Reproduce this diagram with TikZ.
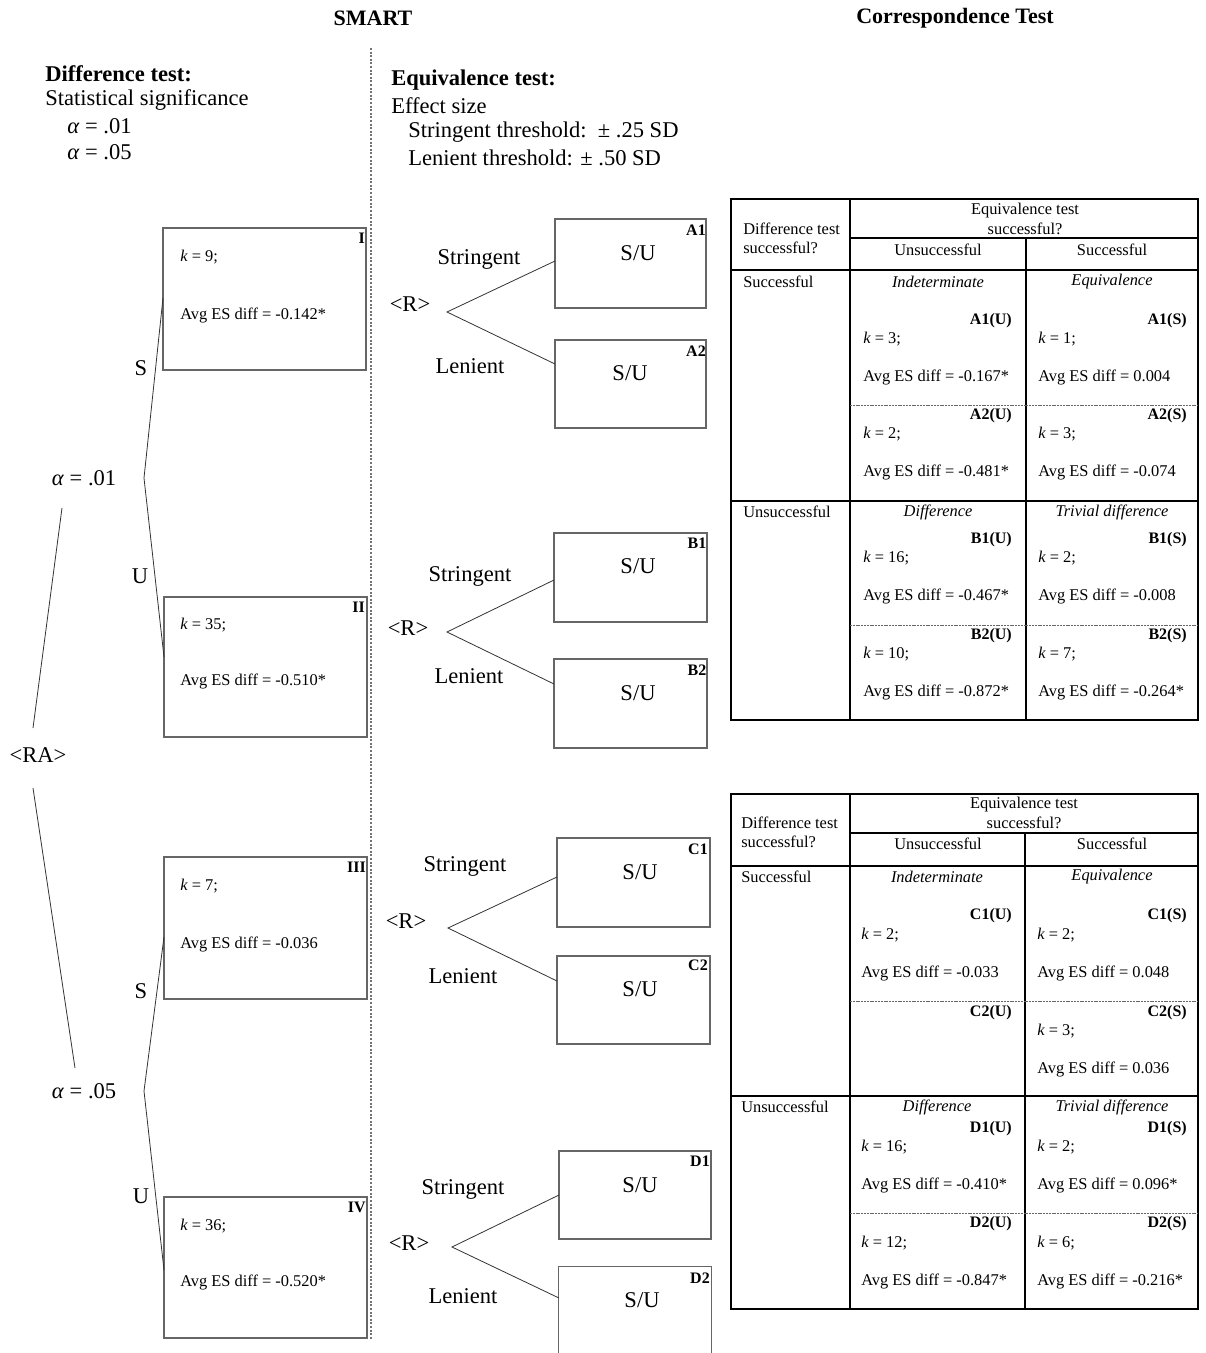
\documentclass[tikz,border=0pt]{standalone}
\usepackage{fontspec}
\setmainfont{Liberation Serif}
\usetikzlibrary{fit}
\newcommand\tlab[4]{\node[smb,anchor=east] (#1) at (#2,#3) {#4};}
\newcommand\tkv[6][38]{\node[sm,anchor=west] (#2k) at (#3,#4) {\textit{k} = #5;};
  \node[sm,anchor=west] (#2v) at (#3,#4+#1) {Avg ES diff = #6};}
\begin{document}
\begin{tikzpicture}[x=0.75pt,y=-0.75pt,
  big/.style={font=\fontsize{16.9}{20}\selectfont, inner sep=0pt},
  bigb/.style={font=\fontsize{16.9}{20}\selectfont\bfseries, inner sep=0pt},
  sm/.style={font=\fontsize{12.3}{14}\selectfont, inner sep=0pt},
  smi/.style={font=\fontsize{12.3}{14}\selectfont\itshape, inner sep=0pt},
  smb/.style={font=\fontsize{12}{14}\selectfont\bfseries, inner sep=0pt},
  hdr/.style={font=\fontsize{16.5}{20}\selectfont\bfseries, inner sep=0pt},
  sbox/.style={draw=black!60, line width=0.9pt, inner sep=0pt},
  branch/.style={draw=black!80, line width=0.6pt},
  tline/.style={draw=black, line width=1.5pt},
  dline/.style={draw=black!60, line width=0.5pt, dash pattern=on 1.5pt off 0.6pt},
  vsep/.style={draw=black!55, line width=0.9pt, dash pattern=on 1.5pt off 1.2pt}
]
\useasboundingbox (0,0) rectangle (1206,1353);

% headers
\node[hdr] (hsmart) at (373,18) {SMART};
\node[hdr] (hcorr) at (955,18) {Correspondence Test};
\draw[vsep] (371,48) -- (371,1340);

\node[bigb,anchor=west] (dt1) at (45,74) {Difference test:};
\node[big,anchor=west] (dt2) at (45,100) {Statistical significance};
\node[big,anchor=west] (dt3) at (67,126) {\textit{α} = .01};
\node[big,anchor=west] (dt4) at (67,152) {\textit{α} = .05};

\node[bigb,anchor=west] (et1) at (391,80) {Equivalence test:};
\node[big,anchor=west] (et2) at (391,106) {Effect size};
\node[big,anchor=west] (et3) at (408,132) {Stringent threshold:\ \ ± .25 SD};
\node[big,anchor=west] (et4) at (408,158) {Lenient threshold: ± .50 SD};

% left tree
\node[big] (ra) at (38,755) {<RA>};
\node[big] (a01) at (84,478) {\textit{α} = .01};
\node[big] (a05) at (84,1091) {\textit{α} = .05};
\coordinate (t1) at (62,508);
\coordinate (t2) at (33,728);
\coordinate (t3) at (33,788);
\coordinate (t4) at (75,1068);
\draw[branch] (t1) -- (t2);
\draw[branch] (t3) -- (t4);

\node[sbox, fit={(163,228) (366,370)}] (bI) {};
\node[sbox, fit={(164,597) (367,737)}] (bII) {};
\node[sbox, fit={(164,857) (367,999)}] (bIII) {};
\node[sbox, fit={(164,1197) (367,1338)}] (bIV) {};

\coordinate (v01) at (144,478);
\coordinate (eI) at (163,298);
\coordinate (eII) at (164,657);
\draw[branch] (eI) -- (v01) -- (eII);
\coordinate (v05) at (144,1091);
\coordinate (eIII) at (164,937);
\coordinate (eIV) at (164,1270);
\draw[branch] (eIII) -- (v05) -- (eIV);

\node[big] (sI) at (141,368) {S};
\node[big] (uI) at (140,576) {U};
\node[big] (sII) at (141,991) {S};
\node[big] (uII) at (141,1196) {U};

\node[smb,anchor=east] (lI) at (365,238) {I};
\node[smb,anchor=east] (lII) at (365,607) {II};
\node[smb,anchor=east] (lIII) at (366,867) {III};
\node[smb,anchor=east] (lIV) at (366,1207) {IV};
\tkv[58]{bI}{180}{257}{9}{-0.142*}
\tkv[56]{bII}{180}{625}{35}{-0.510*}
\tkv[58]{bIII}{180}{886}{7}{-0.036}
\tkv[56]{bIV}{180}{1226}{36}{-0.520*}

% middle trees
% A
\node[big] (RA) at (410,304) {<R>};
\coordinate (vA) at (447,312);
\node[sbox, fit={(555,219) (706,308)}] (bA1) {};
\node[sbox, fit={(555,340) (706,428)}] (bA2) {};
\coordinate (eA1) at (555,261);
\coordinate (eA2) at (555,364);
\draw[branch] (eA1) -- (vA) -- (eA2);
\node[big] (stA) at (479,259) {Stringent};
\node[big] (leA) at (470,366) {Lenient};
\node[big] (suA1) at (638,253) {S/U};
\node[big] (suA2) at (630,373) {S/U};
\node[smb] (lA1) at (696,230) {A1};
\node[smb] (lA2) at (696,351) {A2};
% B
\node[big] (RB) at (408,628) {<R>};
\coordinate (vB) at (447,632);
\node[sbox, fit={(554,533) (707,622)}] (bB1) {};
\node[sbox, fit={(554,659) (707,748)}] (bB2) {};
\coordinate (eB1) at (554,580);
\coordinate (eB2) at (554,684);
\draw[branch] (eB1) -- (vB) -- (eB2);
\node[big] (stB) at (470,576) {Stringent};
\node[big] (leB) at (469,676) {Lenient};
\node[big] (suB1) at (638,566) {S/U};
\node[big] (suB2) at (638,693) {S/U};
\node[smb] (lB1) at (697,543) {B1};
\node[smb] (lB2) at (697,670) {B2};
% C
\node[big] (RC) at (406,921) {<R>};
\coordinate (vC) at (448,928);
\node[sbox, fit={(557,838) (710,927)}] (bC1) {};
\node[sbox, fit={(557,956) (710,1044)}] (bC2) {};
\coordinate (eC1) at (557,877);
\coordinate (eC2) at (557,981);
\draw[branch] (eC1) -- (vC) -- (eC2);
\node[big] (stC) at (465,866) {Stringent};
\node[big] (leC) at (463,976) {Lenient};
\node[big] (suC1) at (640,872) {S/U};
\node[big] (suC2) at (640,989) {S/U};
\node[smb] (lC1) at (698,849) {C1};
\node[smb] (lC2) at (698,965) {C2};
% D
\node[big] (RD) at (409,1243) {<R>};
\coordinate (vD) at (452,1247);
\node[sbox, fit={(559,1151) (711,1239)}] (bD1) {};
\node[inner sep=0pt, fit={(559,1267) (711,1353)}] (bD2) {};
\draw[sbox] (bD2.south west) -- (bD2.north west) -- (bD2.north east) -- (bD2.south east);
\coordinate (eD1) at (559,1195);
\coordinate (eD2) at (559,1298);
\draw[branch] (eD1) -- (vD) -- (eD2);
\node[big] (stD) at (463,1189) {Stringent};
\node[big] (leD) at (463,1296) {Lenient};
\node[big] (suD1) at (640,1185) {S/U};
\node[big] (suD2) at (642,1300) {S/U};
\node[smb] (lD1) at (700,1161) {D1};
\node[smb] (lD2) at (700,1278) {D2};

% table 1
\draw[tline] (731,199) rectangle (1198,720);
\draw[tline] (850,199) -- (850,720);
\draw[tline] (850,238) -- (1198,238);
\draw[tline] (1026,238) -- (1026,720);
\draw[tline] (731,270) -- (1198,270);
\draw[tline] (731,501) -- (1198,501);
\draw[dline] (850,405) -- (1198,405);
\draw[dline] (850,625) -- (1198,625);
\node[sm] (h1a) at (1025,211) {Equivalence test};
\node[sm] (h1b) at (1025,229) {successful?};
\node[sm,anchor=west] (h1c) at (743,229) {Difference test};
\node[sm,anchor=west] (h1d) at (743,248) {successful?};
\node[sm] (h1e) at (938,250) {Unsuccessful};
\node[sm] (h1f) at (1112,250) {Successful};
\node[sm,anchor=west] (r1a) at (743,282) {Successful};
\node[smi] (r1b) at (938,282) {Indeterminate};
\node[smi] (r1c) at (1112,282) {Equivalence};
\tlab{A1Ul}{1012}{321}{A1(U)} \tkv{A1U}{863}{339}{3}{-0.167*}
\tlab{A1Sl}{1187}{321}{A1(S)} \tkv{A1S}{1038}{339}{1}{0.004}
\tlab{A2Ul}{1012}{416}{A2(U)} \tkv{A2U}{863}{434}{2}{-0.481*}
\tlab{A2Sl}{1187}{416}{A2(S)} \tkv{A2S}{1038}{434}{3}{-0.074}
\node[sm,anchor=west] (r1d) at (743,512) {Unsuccessful};
\node[smi] (r1e) at (938,512) {Difference};
\node[smi] (r1f) at (1112,512) {Trivial difference};
\tlab{B1Ul}{1012}{540}{B1(U)} \tkv{B1U}{863}{558}{16}{-0.467*}
\tlab{B1Sl}{1187}{540}{B1(S)} \tkv{B1S}{1038}{558}{2}{-0.008}
\tlab{B2Ul}{1012}{636}{B2(U)} \tkv{B2U}{863}{654}{10}{-0.872*}
\tlab{B2Sl}{1187}{636}{B2(S)} \tkv{B2S}{1038}{654}{7}{-0.264*}

% table 2
\draw[tline] (731,794) rectangle (1198,1309);
\draw[tline] (850,794) -- (850,1309);
\draw[tline] (850,833) -- (1198,833);
\draw[tline] (1025,833) -- (1025,1309);
\draw[tline] (731,866) -- (1198,866);
\draw[tline] (731,1096) -- (1198,1096);
\draw[dline] (850,1001) -- (1198,1001);
\draw[dline] (850,1213) -- (1198,1213);
\node[sm] (h2a) at (1024,805) {Equivalence test};
\node[sm] (h2b) at (1024,823) {successful?};
\node[sm,anchor=west] (h2c) at (741,823) {Difference test};
\node[sm,anchor=west] (h2d) at (741,842) {successful?};
\node[sm] (h2e) at (938,844) {Unsuccessful};
\node[sm] (h2f) at (1112,844) {Successful};
\node[sm,anchor=west] (r2a) at (741,877) {Successful};
\node[smi] (r2b) at (937,877) {Indeterminate};
\node[smi] (r2c) at (1112,877) {Equivalence};
\tlab{C1Ul}{1012}{916}{C1(U)} \tkv{C1U}{861}{935}{2}{-0.033}
\tlab{C1Sl}{1187}{916}{C1(S)} \tkv{C1S}{1037}{935}{2}{0.048}
\tlab{C2Ul}{1012}{1013}{C2(U)}
\tlab{C2Sl}{1187}{1013}{C2(S)} \tkv{C2S}{1037}{1031}{3}{0.036}
\node[sm,anchor=west] (r2d) at (741,1107) {Unsuccessful};
\node[smi] (r2e) at (937,1107) {Difference};
\node[smi] (r2f) at (1112,1107) {Trivial difference};
\tlab{D1Ul}{1012}{1129}{D1(U)} \tkv{D1U}{861}{1147}{16}{-0.410*}
\tlab{D1Sl}{1187}{1129}{D1(S)} \tkv{D1S}{1037}{1147}{2}{0.096*}
\tlab{D2Ul}{1012}{1224}{D2(U)} \tkv{D2U}{861}{1243}{12}{-0.847*}
\tlab{D2Sl}{1187}{1224}{D2(S)} \tkv{D2S}{1037}{1243}{6}{-0.216*}
\end{tikzpicture}
\end{document}
